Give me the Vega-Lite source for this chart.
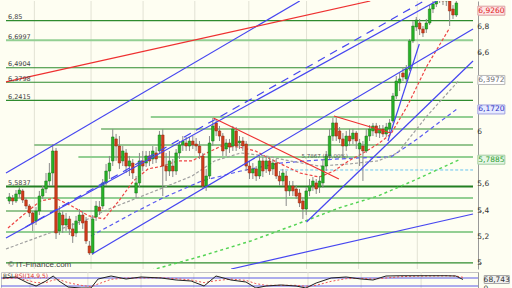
{
"$schema": "https://vega.github.io/schema/vega-lite/v6.json",
"background": "#fefef2",
"padding": 0,
"spacing": 1,
"config": {"view": {"stroke": null}, "font": "DejaVu Sans"},
"datasets": {
"grid": [{"t":8.5},{"t":25.5},{"t":41.1},{"t":56.6},{"t":72.8},{"t":90.1},{"t":105.7},{"t":123.3}],
"axislabels": [{"v":5,"label":"5"},{"v":5.2,"label":"5,2"},{"v":5.4,"label":"5,4"},{"v":5.6,"label":"5,6"},{"v":6,"label":"6"},{"v":6.6,"label":"6,6"},{"v":6.8,"label":"6,8"}],
"levels": [
{"p":6.85,"t0":0,"t1":140,"kind":"dark","label":"6,85"},
{"p":6.6997,"t0":0,"t1":140,"kind":"light","label":"6,6997"},
{"p":6.4904,"t0":0,"t1":140,"kind":"dark","label":"6,4904"},
{"p":6.3798,"t0":0,"t1":140,"kind":"dark","label":"6,3798"},
{"p":6.2415,"t0":0,"t1":140,"kind":"dark","label":"6,2415"},
{"p":6.1145,"t0":43.4,"t1":140,"kind":"light","label":""},
{"p":6.0229,"t0":28.5,"t1":140,"kind":"dark","label":""},
{"p":5.9008,"t0":8.5,"t1":140,"kind":"dark","label":""},
{"p":5.8092,"t0":21.7,"t1":140,"kind":"light","label":""},
{"p":5.71,"t0":82.2,"t1":140,"kind":"cyan","label":""},
{"p":5.5837,"t0":0,"t1":140,"kind":"thick","label":"5,5837"},
{"p":5.4962,"t0":0,"t1":140,"kind":"light","label":""},
{"p":5.3969,"t0":0,"t1":140,"kind":"dark","label":""},
{"p":5.2366,"t0":0,"t1":140,"kind":"light","label":""},
{"p":5.0,"t0":0,"t1":140,"kind":"dark","label":""}
],
"trends": [
{"kind":"blue","t0":0,"p0":5.687,"t1":88.05,"p1":7.0},
{"kind":"blue","t0":0,"p0":5.191,"t1":129.1,"p1":7.0},
{"kind":"blue","t0":25.83,"p0":5.069,"t1":140,"p1":6.786},
{"kind":"blue","t0":90.1,"p0":5.313,"t1":140,"p1":6.542},
{"kind":"blue","t0":67.5,"p0":4.954,"t1":140,"p1":5.374},
{"kind":"blue","t0":114.5,"p0":5.931,"t1":123.9,"p1":6.672},
{"kind":"bluedash","t0":5.87,"p0":5.275,"t1":125.3,"p1":7.0},
{"kind":"red","t0":0,"p0":6.382,"t1":109.2,"p1":7.0},
{"kind":"red","t0":62.2,"p0":6.107,"t1":99.8,"p1":5.641},
{"kind":"red","t0":98.3,"p0":6.122,"t1":115.3,"p1":5.992}
],
"ma": [
{"ma":"red","t":0.6,"p":5.267},{"ma":"red","t":5.9,"p":5.382},{"ma":"red","t":10.3,"p":5.473},{"ma":"red","t":14.7,"p":5.496},{"ma":"red","t":19.7,"p":5.435},{"ma":"red","t":24.9,"p":5.359},{"ma":"red","t":29.4,"p":5.336},{"ma":"red","t":33.8,"p":5.473},{"ma":"red","t":38.2,"p":5.626},{"ma":"red","t":42.6,"p":5.718},{"ma":"red","t":47.0,"p":5.74},{"ma":"red","t":51.4,"p":5.779},{"ma":"red","t":55.8,"p":5.779},{"ma":"red","t":60.2,"p":5.84},{"ma":"red","t":64.6,"p":5.893},{"ma":"red","t":69.9,"p":5.885},{"ma":"red","t":74.8,"p":5.855},{"ma":"red","t":79.2,"p":5.794},{"ma":"red","t":83.7,"p":5.74},{"ma":"red","t":88.1,"p":5.687},{"ma":"red","t":93.9,"p":5.656},{"ma":"red","t":98.3,"p":5.702},{"ma":"red","t":102.7,"p":5.779},{"ma":"red","t":107.1,"p":5.84},{"ma":"red","t":111.5,"p":5.908},{"ma":"red","t":115.4,"p":5.985},{"ma":"red","t":120.3,"p":6.198},{"ma":"red","t":126.2,"p":6.504},{"ma":"red","t":133.0,"p":6.794},
{"ma":"grey","t":0,"p":5.107},{"ma":"grey","t":14.7,"p":5.244},{"ma":"grey","t":25.5,"p":5.344},{"ma":"grey","t":29.4,"p":5.397},{"ma":"grey","t":47.0,"p":5.573},{"ma":"grey","t":55.8,"p":5.664},{"ma":"grey","t":62.5,"p":5.779},{"ma":"grey","t":70.4,"p":5.84},{"ma":"grey","t":77.8,"p":5.817},{"ma":"grey","t":85.1,"p":5.779},{"ma":"grey","t":93.9,"p":5.74},{"ma":"grey","t":102.7,"p":5.756},{"ma":"grey","t":111.5,"p":5.779},{"ma":"grey","t":117.4,"p":5.84},{"ma":"grey","t":126.2,"p":6.122},{"ma":"grey","t":135.9,"p":6.397},
{"ma":"blue","t":25.5,"p":5.206},{"ma":"blue","t":38.2,"p":5.382},{"ma":"blue","t":47.0,"p":5.496},{"ma":"blue","t":58.7,"p":5.626},{"ma":"blue","t":70.4,"p":5.702},{"ma":"blue","t":82.2,"p":5.763},{"ma":"blue","t":93.9,"p":5.786},{"ma":"blue","t":105.7,"p":5.802},{"ma":"blue","t":115.4,"p":5.809},{"ma":"blue","t":123.3,"p":5.947},{"ma":"blue","t":135.0,"p":6.172},
{"ma":"green","t":40.0,"p":4.92},{"ma":"green","t":58.7,"p":5.053},{"ma":"green","t":73.4,"p":5.168},{"ma":"green","t":88.1,"p":5.305},{"ma":"green","t":99.8,"p":5.42},{"ma":"green","t":111.5,"p":5.511},{"ma":"green","t":123.3,"p":5.641},{"ma":"green","t":135.9,"p":5.7885}
],
"candles": [
{"t":1,"o":5.473,"h":5.534,"l":5.45,"c":5.504},
{"t":2,"o":5.496,"h":5.519,"l":5.443,"c":5.473},
{"t":3,"o":5.473,"h":5.557,"l":5.458,"c":5.527},
{"t":4,"o":5.527,"h":5.58,"l":5.496,"c":5.557},
{"t":5,"o":5.55,"h":5.565,"l":5.458,"c":5.481},
{"t":6,"o":5.481,"h":5.496,"l":5.412,"c":5.435},
{"t":7,"o":5.435,"h":5.45,"l":5.351,"c":5.382},
{"t":8,"o":5.382,"h":5.397,"l":5.244,"c":5.305},
{"t":9,"o":5.321,"h":5.427,"l":5.29,"c":5.397},
{"t":10,"o":5.397,"h":5.55,"l":5.366,"c":5.511},
{"t":11,"o":5.511,"h":5.588,"l":5.489,"c":5.565},
{"t":12,"o":5.565,"h":5.687,"l":5.534,"c":5.626},
{"t":13,"o":5.626,"h":5.763,"l":5.588,"c":5.687},
{"t":14,"o":5.687,"h":5.908,"l":5.588,"c":5.855},
{"t":15,"o":5.855,"h":5.878,"l":5.183,"c":5.229},
{"t":16,"o":5.244,"h":5.435,"l":5.214,"c":5.382},
{"t":17,"o":5.366,"h":5.397,"l":5.229,"c":5.29},
{"t":18,"o":5.29,"h":5.382,"l":5.244,"c":5.336},
{"t":19,"o":5.336,"h":5.359,"l":5.214,"c":5.26},
{"t":20,"o":5.26,"h":5.305,"l":5.153,"c":5.206},
{"t":21,"o":5.229,"h":5.359,"l":5.198,"c":5.321},
{"t":22,"o":5.321,"h":5.412,"l":5.29,"c":5.366},
{"t":23,"o":5.366,"h":5.397,"l":5.26,"c":5.305},
{"t":24,"o":5.321,"h":5.351,"l":5.145,"c":5.168},
{"t":25,"o":5.13,"h":5.168,"l":5.061,"c":5.076},
{"t":26,"o":5.076,"h":5.366,"l":5.061,"c":5.336},
{"t":27,"o":5.351,"h":5.473,"l":5.321,"c":5.435},
{"t":28,"o":5.427,"h":5.473,"l":5.366,"c":5.397},
{"t":29,"o":5.435,"h":5.641,"l":5.412,"c":5.611},
{"t":30,"o":5.611,"h":5.756,"l":5.588,"c":5.702},
{"t":31,"o":5.702,"h":5.817,"l":5.641,"c":5.763},
{"t":32,"o":5.779,"h":6.023,"l":5.74,"c":5.962},
{"t":33,"o":5.947,"h":5.985,"l":5.779,"c":5.893},
{"t":34,"o":5.893,"h":5.969,"l":5.718,"c":5.763},
{"t":35,"o":5.779,"h":5.893,"l":5.74,"c":5.855},
{"t":36,"o":5.84,"h":5.87,"l":5.687,"c":5.74},
{"t":37,"o":5.74,"h":5.817,"l":5.664,"c":5.779},
{"t":38,"o":5.763,"h":5.794,"l":5.641,"c":5.687},
{"t":39,"o":5.534,"h":5.664,"l":5.496,"c":5.611},
{"t":40,"o":5.611,"h":5.84,"l":5.58,"c":5.779},
{"t":41,"o":5.779,"h":5.855,"l":5.702,"c":5.74},
{"t":42,"o":5.763,"h":5.855,"l":5.733,"c":5.817},
{"t":43,"o":5.817,"h":5.855,"l":5.74,"c":5.779},
{"t":44,"o":5.794,"h":5.893,"l":5.756,"c":5.855},
{"t":45,"o":5.84,"h":5.885,"l":5.763,"c":5.794},
{"t":46,"o":5.855,"h":6.008,"l":5.832,"c":5.977},
{"t":47,"o":5.977,"h":6.023,"l":5.511,"c":5.74},
{"t":48,"o":5.74,"h":5.84,"l":5.626,"c":5.702},
{"t":49,"o":5.702,"h":5.855,"l":5.664,"c":5.779},
{"t":50,"o":5.74,"h":5.794,"l":5.656,"c":5.702},
{"t":51,"o":5.702,"h":5.87,"l":5.672,"c":5.84},
{"t":52,"o":5.84,"h":5.931,"l":5.794,"c":5.901},
{"t":53,"o":5.901,"h":5.969,"l":5.855,"c":5.931},
{"t":54,"o":5.916,"h":5.962,"l":5.855,"c":5.893},
{"t":55,"o":5.893,"h":5.962,"l":5.855,"c":5.931},
{"t":56,"o":5.931,"h":5.969,"l":5.87,"c":5.901},
{"t":57,"o":5.908,"h":5.954,"l":5.855,"c":5.893},
{"t":58,"o":5.893,"h":5.931,"l":5.794,"c":5.84},
{"t":59,"o":5.817,"h":5.84,"l":5.565,"c":5.588},
{"t":60,"o":5.588,"h":5.718,"l":5.55,"c":5.664},
{"t":61,"o":5.664,"h":5.969,"l":5.641,"c":5.916},
{"t":62,"o":5.931,"h":6.107,"l":5.893,"c":6.046},
{"t":63,"o":6.069,"h":6.099,"l":5.969,"c":6.008},
{"t":64,"o":6.008,"h":6.046,"l":5.931,"c":5.969},
{"t":65,"o":5.969,"h":5.992,"l":5.817,"c":5.855},
{"t":66,"o":5.87,"h":5.947,"l":5.817,"c":5.916},
{"t":67,"o":5.916,"h":5.947,"l":5.84,"c":5.885},
{"t":68,"o":5.893,"h":6.046,"l":5.855,"c":6.023},
{"t":69,"o":6.008,"h":6.038,"l":5.855,"c":5.893},
{"t":70,"o":5.916,"h":5.969,"l":5.87,"c":5.931},
{"t":71,"o":5.931,"h":5.962,"l":5.855,"c":5.893},
{"t":72,"o":5.908,"h":5.931,"l":5.702,"c":5.74},
{"t":73,"o":5.74,"h":5.779,"l":5.641,"c":5.687},
{"t":74,"o":5.687,"h":5.763,"l":5.641,"c":5.718},
{"t":75,"o":5.718,"h":5.74,"l":5.626,"c":5.664},
{"t":76,"o":5.664,"h":5.817,"l":5.641,"c":5.779},
{"t":77,"o":5.779,"h":5.809,"l":5.656,"c":5.702},
{"t":78,"o":5.718,"h":5.817,"l":5.687,"c":5.779},
{"t":79,"o":5.779,"h":5.809,"l":5.672,"c":5.702},
{"t":80,"o":5.718,"h":5.794,"l":5.672,"c":5.763},
{"t":81,"o":5.763,"h":5.794,"l":5.641,"c":5.664},
{"t":82,"o":5.664,"h":5.702,"l":5.588,"c":5.626},
{"t":83,"o":5.626,"h":5.718,"l":5.588,"c":5.687},
{"t":84,"o":5.664,"h":5.702,"l":5.435,"c":5.55},
{"t":85,"o":5.55,"h":5.626,"l":5.511,"c":5.588},
{"t":86,"o":5.588,"h":5.626,"l":5.511,"c":5.55},
{"t":87,"o":5.565,"h":5.595,"l":5.489,"c":5.511},
{"t":88,"o":5.534,"h":5.565,"l":5.427,"c":5.458},
{"t":89,"o":5.473,"h":5.504,"l":5.336,"c":5.412},
{"t":90,"o":5.412,"h":5.58,"l":5.366,"c":5.55},
{"t":91,"o":5.55,"h":5.641,"l":5.511,"c":5.588},
{"t":92,"o":5.588,"h":5.656,"l":5.55,"c":5.626},
{"t":93,"o":5.611,"h":5.641,"l":5.527,"c":5.565},
{"t":94,"o":5.58,"h":5.664,"l":5.534,"c":5.626},
{"t":95,"o":5.611,"h":5.794,"l":5.573,"c":5.74},
{"t":96,"o":5.74,"h":5.855,"l":5.702,"c":5.817},
{"t":97,"o":5.817,"h":6.023,"l":5.794,"c":5.969},
{"t":98,"o":5.969,"h":6.107,"l":5.931,"c":6.069},
{"t":99,"o":6.069,"h":6.107,"l":5.931,"c":5.969},
{"t":100,"o":6.008,"h":6.038,"l":5.916,"c":5.947},
{"t":101,"o":5.947,"h":5.992,"l":5.802,"c":5.893},
{"t":102,"o":5.893,"h":6.008,"l":5.855,"c":5.969},
{"t":103,"o":5.969,"h":6.023,"l":5.893,"c":5.931},
{"t":104,"o":5.947,"h":6.023,"l":5.908,"c":5.992},
{"t":105,"o":5.992,"h":6.008,"l":5.87,"c":5.931},
{"t":106,"o":5.87,"h":5.947,"l":5.74,"c":5.916},
{"t":107,"o":5.893,"h":5.931,"l":5.626,"c":5.855},
{"t":108,"o":5.855,"h":6.023,"l":5.84,"c":5.969},
{"t":109,"o":5.969,"h":6.053,"l":5.931,"c":6.023},
{"t":110,"o":6.008,"h":6.069,"l":5.969,"c":6.046},
{"t":111,"o":6.046,"h":6.069,"l":5.962,"c":5.992},
{"t":112,"o":5.992,"h":6.053,"l":5.954,"c":6.023},
{"t":113,"o":6.023,"h":6.053,"l":5.962,"c":5.985},
{"t":114,"o":5.985,"h":6.069,"l":5.962,"c":6.038},
{"t":115,"o":6.023,"h":6.099,"l":5.992,"c":6.069},
{"t":116,"o":6.084,"h":6.298,"l":6.069,"c":6.275},
{"t":117,"o":6.275,"h":6.427,"l":6.252,"c":6.389},
{"t":118,"o":6.374,"h":6.45,"l":6.313,"c":6.405},
{"t":119,"o":6.45,"h":6.496,"l":6.389,"c":6.42},
{"t":120,"o":6.405,"h":6.511,"l":6.374,"c":6.481},
{"t":121,"o":6.481,"h":6.71,"l":6.466,"c":6.695},
{"t":122,"o":6.695,"h":6.847,"l":6.679,"c":6.809},
{"t":123,"o":6.802,"h":6.878,"l":6.771,"c":6.855},
{"t":124,"o":6.832,"h":6.863,"l":6.74,"c":6.786},
{"t":125,"o":6.786,"h":6.809,"l":6.725,"c":6.756},
{"t":126,"o":6.786,"h":6.863,"l":6.756,"c":6.832},
{"t":127,"o":6.832,"h":6.969,"l":6.817,"c":6.939},
{"t":128,"o":6.939,"h":7.015,"l":6.908,"c":6.977},
{"t":129,"o":6.977,"h":7.061,"l":6.954,"c":7.023},
{"t":130,"o":7.023,"h":7.076,"l":6.985,"c":7.046},
{"t":131,"o":7.031,"h":7.076,"l":6.969,"c":7.0},
{"t":132,"o":7.0,"h":7.046,"l":6.962,"c":7.015},
{"t":133,"o":7.0,"h":7.031,"l":6.809,"c":6.924},
{"t":134,"o":6.939,"h":6.969,"l":6.863,"c":6.893},
{"t":135,"o":6.893,"h":7.015,"l":6.878,"c":6.985}
],
"tags": [
{"name":"close","label":"6,9260","p":6.926},
{"name":"grey","label":"6,3972","p":6.3972},
{"name":"blue","label":"6,1720","p":6.172},
{"name":"green","label":"5,7885","p":5.7885}
],
"notes": [
{"id":"copy","label":"© IT-Finance.com"},
{"id":"fib","label":"5,7867 (50,00%)","p":5.7867}
],
"rsi": [
{"t":0.5,"v":80,"s":75},{"t":4.4,"v":87.5,"s":80},{"t":7.9,"v":42.5,"s":62},{"t":10.3,"v":20,"s":45},{"t":13.2,"v":57.5,"s":45},{"t":15.3,"v":95,"s":65},{"t":17.0,"v":57.5,"s":68},{"t":19.7,"v":12.5,"s":45},{"t":23.5,"v":5,"s":25},{"t":26.4,"v":5,"s":15},{"t":28.5,"v":72.5,"s":35},{"t":32.3,"v":95,"s":70},{"t":36.7,"v":72.5,"s":80},{"t":41.1,"v":87.5,"s":80},{"t":47.0,"v":80,"s":82},{"t":51.4,"v":65,"s":75},{"t":55.8,"v":57.5,"s":65},{"t":59.6,"v":20,"s":45},{"t":63.1,"v":95,"s":60},{"t":67.5,"v":65,"s":72},{"t":71.9,"v":50,"s":62},{"t":74.8,"v":5,"s":38},{"t":77.8,"v":20,"s":25},{"t":82.2,"v":27.5,"s":25},{"t":86.6,"v":20,"s":25},{"t":89.5,"v":5,"s":18},{"t":92.5,"v":42.5,"s":25},{"t":96.9,"v":80,"s":55},{"t":101.3,"v":87.5,"s":75},{"t":105.7,"v":72.5,"s":78},{"t":109.2,"v":65,"s":72},{"t":113.0,"v":95,"s":80},{"t":117.4,"v":97,"s":90},{"t":121.8,"v":97,"s":94},{"t":126.2,"v":97,"s":95},{"t":130.6,"v":97,"s":96},{"t":133.5,"v":95,"s":95},{"t":135.6,"v":68.743,"s":85}
],
"rsilev": [{"v":80},{"v":20}],
"rsitag": [{"label":"68,743","v":68.743}],
"rsinotes": [{"id":"a","label":"RSI"},{"id":"b","label":"RSI(14,9,5)"}]
},
"vconcat": [
{
"width": 477,
"height": 268,
"layer": [
{"data":{"name":"grid"},"mark":{"type":"rule","color":"#e2e2d4","strokeWidth":1},
 "encoding":{"x":{"field":"t","type":"quantitative","scale":{"domain":[0,140],"nice":false,"zero":false},"axis":null}}},
{"data":{"name":"levels"},"transform":[{"filter":"datum.kind == 'light'"}],
 "mark":{"type":"rule","color":"#93cf93","strokeWidth":2},
 "encoding":{"x":{"field":"t0","type":"quantitative","scale":{"domain":[0,140],"nice":false,"zero":false},"axis":null},"x2":{"field":"t1"},
  "y":{"field":"p","type":"quantitative","scale":{"domain":[4.954,7.0],"nice":false,"zero":false},"title":null,
   "axis":{"orient":"right","values":[5,5.2,5.4,5.6,5.8,6,6.2,6.4,6.6,6.8],"labels":false,"grid":false,"domainColor":"#999999","tickColor":"#999999","tickSize":3}}}},
{"data":{"name":"levels"},"transform":[{"filter":"datum.kind == 'dark'"}],
 "mark":{"type":"rule","color":"#2e8b2e","strokeWidth":1.2},
 "encoding":{"x":{"field":"t0","type":"quantitative","scale":{"domain":[0,140],"nice":false,"zero":false},"axis":null},"x2":{"field":"t1"},
  "y":{"field":"p","type":"quantitative","scale":{"domain":[4.954,7.0],"nice":false,"zero":false},"title":null}}},
{"data":{"name":"levels"},"transform":[{"filter":"datum.kind == 'thick'"}],
 "mark":{"type":"rule","color":"#237f23","strokeWidth":2.2},
 "encoding":{"x":{"field":"t0","type":"quantitative","scale":{"domain":[0,140],"nice":false,"zero":false},"axis":null},"x2":{"field":"t1"},
  "y":{"field":"p","type":"quantitative","scale":{"domain":[4.954,7.0],"nice":false,"zero":false},"title":null}}},
{"data":{"name":"levels"},"transform":[{"filter":"datum.kind == 'cyan'"}],
 "mark":{"type":"rule","color":"#66c4ee","strokeWidth":1,"strokeDash":[3,2]},
 "encoding":{"x":{"field":"t0","type":"quantitative","scale":{"domain":[0,140],"nice":false,"zero":false},"axis":null},"x2":{"field":"t1"},
  "y":{"field":"p","type":"quantitative","scale":{"domain":[4.954,7.0],"nice":false,"zero":false},"title":null}}},
{"data":{"name":"ma"},"transform":[{"filter":"datum.ma == 'green'"}],
 "mark":{"type":"line","clip":true,"color":"#55d455","strokeWidth":1.5,"strokeDash":[3,3]},
 "encoding":{"x":{"field":"t","type":"quantitative","scale":{"domain":[0,140],"nice":false,"zero":false},"axis":null},
  "y":{"field":"p","type":"quantitative","scale":{"domain":[4.954,7.0],"nice":false,"zero":false},"title":null}}},
{"data":{"name":"ma"},"transform":[{"filter":"datum.ma == 'blue'"}],
 "mark":{"type":"line","clip":true,"color":"#5a5af0","strokeWidth":1.2,"strokeDash":[4,3]},
 "encoding":{"x":{"field":"t","type":"quantitative","scale":{"domain":[0,140],"nice":false,"zero":false},"axis":null},
  "y":{"field":"p","type":"quantitative","scale":{"domain":[4.954,7.0],"nice":false,"zero":false},"title":null}}},
{"data":{"name":"ma"},"transform":[{"filter":"datum.ma == 'grey'"}],
 "mark":{"type":"line","clip":true,"color":"#a0a0a0","strokeWidth":1.2,"strokeDash":[3,2]},
 "encoding":{"x":{"field":"t","type":"quantitative","scale":{"domain":[0,140],"nice":false,"zero":false},"axis":null},
  "y":{"field":"p","type":"quantitative","scale":{"domain":[4.954,7.0],"nice":false,"zero":false},"title":null}}},
{"data":{"name":"ma"},"transform":[{"filter":"datum.ma == 'red'"}],
 "mark":{"type":"line","clip":true,"color":"#ee4444","strokeWidth":1.2,"strokeDash":[3,2]},
 "encoding":{"x":{"field":"t","type":"quantitative","scale":{"domain":[0,140],"nice":false,"zero":false},"axis":null},
  "y":{"field":"p","type":"quantitative","scale":{"domain":[4.954,7.0],"nice":false,"zero":false},"title":null}}},
{"data":{"name":"candles"},
 "mark":{"type":"rule","clip":true,"color":"#8a8a8a","strokeWidth":1},
 "encoding":{"x":{"field":"t","type":"quantitative","scale":{"domain":[0,140],"nice":false,"zero":false},"axis":null},
  "y":{"field":"l","type":"quantitative","scale":{"domain":[4.954,7.0],"nice":false,"zero":false},"title":null},"y2":{"field":"h"}}},
{"data":{"name":"candles"},
 "mark":{"type":"bar","clip":true,"width":2.6,"strokeWidth":0.5},
 "encoding":{"x":{"field":"t","type":"quantitative","scale":{"domain":[0,140],"nice":false,"zero":false},"axis":null},
  "y":{"field":"o","type":"quantitative","scale":{"domain":[4.954,7.0],"nice":false,"zero":false},"title":null},"y2":{"field":"c"},
  "color":{"condition":{"test":"datum.c >= datum.o","value":"#27b327"},"value":"#d23c1c"},
  "stroke":{"condition":{"test":"datum.c >= datum.o","value":"#167016"},"value":"#8c2a10"}}},
{"data":{"name":"trends"},"transform":[{"filter":"datum.kind == 'blue'"}],
 "mark":{"type":"rule","clip":true,"color":"#4646f0","strokeWidth":1.2},
 "encoding":{"x":{"field":"t0","type":"quantitative","scale":{"domain":[0,140],"nice":false,"zero":false},"axis":null},"x2":{"field":"t1"},
  "y":{"field":"p0","type":"quantitative","scale":{"domain":[4.954,7.0],"nice":false,"zero":false},"title":null},"y2":{"field":"p1"}}},
{"data":{"name":"trends"},"transform":[{"filter":"datum.kind == 'bluedash'"}],
 "mark":{"type":"rule","clip":true,"color":"#4646f0","strokeWidth":1.2,"strokeDash":[8,6]},
 "encoding":{"x":{"field":"t0","type":"quantitative","scale":{"domain":[0,140],"nice":false,"zero":false},"axis":null},"x2":{"field":"t1"},
  "y":{"field":"p0","type":"quantitative","scale":{"domain":[4.954,7.0],"nice":false,"zero":false},"title":null},"y2":{"field":"p1"}}},
{"data":{"name":"trends"},"transform":[{"filter":"datum.kind == 'red'"}],
 "mark":{"type":"rule","clip":true,"color":"#ee3030","strokeWidth":1.2},
 "encoding":{"x":{"field":"t0","type":"quantitative","scale":{"domain":[0,140],"nice":false,"zero":false},"axis":null},"x2":{"field":"t1"},
  "y":{"field":"p0","type":"quantitative","scale":{"domain":[4.954,7.0],"nice":false,"zero":false},"title":null},"y2":{"field":"p1"}}},
{"data":{"name":"levels"},"transform":[{"filter":"datum.label != ''"}],
 "mark":{"type":"text","align":"left","baseline":"bottom","dy":-0.5,"fontSize":6.5,"color":"#444444"},
 "encoding":{"x":{"datum":0.6,"type":"quantitative","scale":{"domain":[0,140],"nice":false,"zero":false},"axis":null},
  "y":{"field":"p","type":"quantitative","scale":{"domain":[4.954,7.0],"nice":false,"zero":false},"title":null},
  "text":{"field":"label"}}},
{"data":{"name":"notes"},"transform":[{"filter":"datum.id == 'fib'"}],
 "mark":{"type":"text","align":"left","baseline":"bottom","dy":-1,"fontSize":5.5,"color":"#555555"},
 "encoding":{"x":{"datum":88.6,"type":"quantitative","scale":{"domain":[0,140],"nice":false,"zero":false},"axis":null},
  "y":{"field":"p","type":"quantitative","scale":{"domain":[4.954,7.0],"nice":false,"zero":false},"title":null},
  "text":{"field":"label"}}},
{"data":{"name":"notes"},"transform":[{"filter":"datum.id == 'copy'"}],
 "mark":{"type":"text","align":"left","baseline":"middle","fontSize":8,"font":"Liberation Sans","color":"#444444"},
 "encoding":{"x":{"datum":0.6,"type":"quantitative","scale":{"domain":[0,140],"nice":false,"zero":false},"axis":null},
  "y":{"datum":4.985,"type":"quantitative","scale":{"domain":[4.954,7.0],"nice":false,"zero":false},"title":null},
  "text":{"field":"label"}}},
{"data":{"name":"axislabels"},
 "mark":{"type":"text","align":"left","baseline":"middle","fontSize":7.5,"color":"#333333"},
 "encoding":{"x":{"datum":141.3,"type":"quantitative","scale":{"domain":[0,140],"nice":false,"zero":false},"axis":null},
  "y":{"field":"v","type":"quantitative","scale":{"domain":[4.954,7.0],"nice":false,"zero":false},"title":null},
  "text":{"field":"label"}}},
{"data":{"name":"tags"},
 "mark":{"type":"rect","width":27,"height":9,"strokeWidth":1},
 "encoding":{"x":{"datum":145.5,"type":"quantitative","scale":{"domain":[0,140],"nice":false,"zero":false},"axis":null},
  "y":{"field":"p","type":"quantitative","scale":{"domain":[4.954,7.0],"nice":false,"zero":false},"title":null},
  "fill":{"field":"name","type":"nominal","scale":{"domain":["close","grey","blue","green"],"range":["#fde4e4","#ffffff","#e6eaff","#e6f6e6"]},"legend":null},
  "stroke":{"field":"name","type":"nominal","scale":{"domain":["close","grey","blue","green"],"range":["#dca0a0","#b8b8b8","#a0a0e0","#a0cca0"]},"legend":null}}},
{"data":{"name":"tags"},
 "mark":{"type":"text","align":"center","baseline":"middle","fontSize":7.5},
 "encoding":{"x":{"datum":145.5,"type":"quantitative","scale":{"domain":[0,140],"nice":false,"zero":false},"axis":null},
  "y":{"field":"p","type":"quantitative","scale":{"domain":[4.954,7.0],"nice":false,"zero":false},"title":null},
  "text":{"field":"label"},
  "color":{"field":"name","type":"nominal","scale":{"domain":["close","grey","blue","green"],"range":["#e02020","#707070","#3030c0","#30a030"]},"legend":null}}}
]
},
{
"width": 477,
"height": 19,
"view": {"stroke": "#c4c4c4"},
"layer": [
{"data":{"name":"grid"},"mark":{"type":"rule","color":"#e2e2d4","strokeWidth":1},
 "encoding":{"x":{"field":"t","type":"quantitative","scale":{"domain":[0,140],"nice":false,"zero":false},"axis":null}}},
{"data":{"name":"rsilev"},
 "mark":{"type":"rule","color":"#5a5ae6","strokeWidth":1},
 "encoding":{"y":{"field":"v","type":"quantitative","scale":{"domain":[-17.5,125],"nice":false,"zero":false},"title":null,
  "axis":{"orient":"right","values":[0],"labelOverlap":false,"grid":false,"domainColor":"#999999","tickColor":"#999999","tickSize":3,"labelFontSize":7.5,"labelColor":"#333333","labelPadding":2}}}},
{"data":{"name":"rsi"},
 "mark":{"type":"line","color":"#ee5555","strokeWidth":1,"strokeDash":[2,2],"clip":true},
 "encoding":{"x":{"field":"t","type":"quantitative","scale":{"domain":[0,140],"nice":false,"zero":false},"axis":null},
  "y":{"field":"s","type":"quantitative","scale":{"domain":[-17.5,125],"nice":false,"zero":false},"title":null}}},
{"data":{"name":"rsi"},
 "mark":{"type":"line","color":"#222222","strokeWidth":1,"clip":true},
 "encoding":{"x":{"field":"t","type":"quantitative","scale":{"domain":[0,140],"nice":false,"zero":false},"axis":null},
  "y":{"field":"v","type":"quantitative","scale":{"domain":[-17.5,125],"nice":false,"zero":false},"title":null}}},
{"data":{"name":"rsinotes"},"transform":[{"filter":"datum.id == 'a'"}],
 "mark":{"type":"text","align":"left","baseline":"middle","fontSize":6,"color":"#333333"},
 "encoding":{"x":{"datum":0.6,"type":"quantitative","scale":{"domain":[0,140],"nice":false,"zero":false},"axis":null},
  "y":{"datum":95,"type":"quantitative","scale":{"domain":[-17.5,125],"nice":false,"zero":false},"title":null},
  "text":{"field":"label"}}},
{"data":{"name":"rsinotes"},"transform":[{"filter":"datum.id == 'b'"}],
 "mark":{"type":"text","align":"left","baseline":"middle","fontSize":6,"color":"#e03030"},
 "encoding":{"x":{"datum":4.0,"type":"quantitative","scale":{"domain":[0,140],"nice":false,"zero":false},"axis":null},
  "y":{"datum":95,"type":"quantitative","scale":{"domain":[-17.5,125],"nice":false,"zero":false},"title":null},
  "text":{"field":"label"}}},
{"data":{"name":"rsitag"},
 "mark":{"type":"rect","width":25,"height":8,"fill":"#f0f0f0","stroke":"#a8a8a8","strokeWidth":1},
 "encoding":{"x":{"datum":145.5,"type":"quantitative","scale":{"domain":[0,140],"nice":false,"zero":false},"axis":null},
  "y":{"field":"v","type":"quantitative","scale":{"domain":[-17.5,125],"nice":false,"zero":false},"title":null}}},
{"data":{"name":"rsitag"},
 "mark":{"type":"text","align":"center","baseline":"middle","fontSize":7.5,"color":"#333333"},
 "encoding":{"x":{"datum":145.5,"type":"quantitative","scale":{"domain":[0,140],"nice":false,"zero":false},"axis":null},
  "y":{"field":"v","type":"quantitative","scale":{"domain":[-17.5,125],"nice":false,"zero":false},"title":null},
  "text":{"field":"label"}}}
]
}
]
}
